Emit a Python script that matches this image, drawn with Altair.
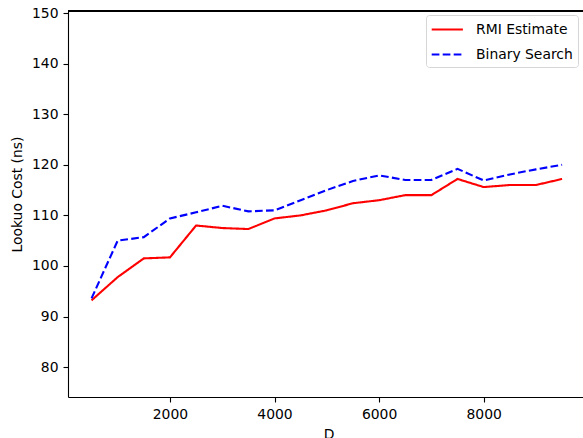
import altair as alt
import pandas as pd

d_values = [500, 1000, 1500, 2000, 2500, 3000, 3500, 4000, 4500, 5000,
            5500, 6000, 6500, 7000, 7500, 8000, 8500, 9000, 9500]
rmi_estimate = [93.2, 97.8, 101.5, 101.7, 108.0, 107.5, 107.3, 109.4, 110.0, 111.0,
                112.4, 113.0, 114.0, 114.0, 117.2, 115.6, 116.0, 116.0, 117.2]
binary_search = [93.6, 105.0, 105.7, 109.4, 110.6, 111.9, 110.8, 111.0, 113.0, 115.0,
                 116.8, 117.9, 117.0, 117.0, 119.2, 116.9, 118.1, 119.1, 120.0]
series_names = ["RMI Estimate", "Binary Search"]
x_ticks = [2000, 4000, 6000, 8000]
y_ticks = [80, 90, 100, 110, 120, 130, 140, 150]

rows = []
for d, v in zip(d_values, rmi_estimate):
    rows.append({"D": d, "cost": v, "series": series_names[0]})
for d, v in zip(d_values, binary_search):
    rows.append({"D": d, "cost": v, "series": series_names[1]})
df = pd.DataFrame(rows)

FONT = "DejaVu Sans"
FS = 13.9
W, H = 515, 386

lines = alt.Chart(df).mark_line(strokeWidth=2.1, clip=True).encode(
    x=alt.X("D:Q",
            scale=alt.Scale(domain=[50, 9900], nice=False, zero=False),
            axis=alt.Axis(values=x_ticks, format="d", title="D",
                          titleX=W / 2 + 3, titleY=41, titleBaseline="alphabetic",
                          titleAnchor=None)),
    y=alt.Y("cost:Q",
            scale=alt.Scale(domain=[74.1, 150.4], nice=False, zero=False),
            axis=alt.Axis(values=y_ticks, title="Lookuo Cost (ns)",
                          titleX=-51, titleY=183, titleAngle=-90,
                          titleBaseline="middle", titleAlign="center")),
    color=alt.Color("series:N",
                    scale=alt.Scale(domain=series_names, range=["#ff0000", "#0000ff"]),
                    legend=alt.Legend(title=None, orient="none", legendX=358, legendY=4,
                                      symbolType="M-1.1,0H2.8", symbolSize=256,
                                      symbolStrokeWidth=2.1, labelOffset=26,
                                      rowPadding=8, padding=5, cornerRadius=3,
                                      strokeColor="#d6d6d6", fillColor="white",
                                      labelFont=FONT, labelFontSize=FS,
                                      labelColor="black", labelLimit=300)),
    strokeDash=alt.StrokeDash("series:N",
                              scale=alt.Scale(domain=series_names,
                                              range=[[1, 0], [7.7, 3.3]]),
                              legend=alt.Legend(title=None, orient="none",
                                                legendX=358, legendY=4)),
)

top_border = alt.Chart(df).mark_rule(color="black", strokeWidth=1.1).encode(
    x=alt.value(0), x2=alt.value(W), y=alt.value(0)
)

chart = alt.layer(lines, top_border).properties(
    width=W, height=H,
    padding={"left": 68, "top": 11, "right": 0, "bottom": 41},
    autosize=alt.AutoSizeParams(type="none"),
).configure_view(stroke=None).configure_axis(
    grid=False,
    domainColor="black", domainWidth=1.1,
    tickColor="black", tickWidth=1.1, tickSize=5,
    labelFont=FONT, labelFontSize=FS, labelColor="black", labelPadding=5,
    titleFont=FONT, titleFontSize=FS, titleColor="black", titleFontWeight="normal",
).configure_axisY(labelBaseline="middle")

chart.save("out.html", embed_options={"renderer": "svg", "actions": False})
